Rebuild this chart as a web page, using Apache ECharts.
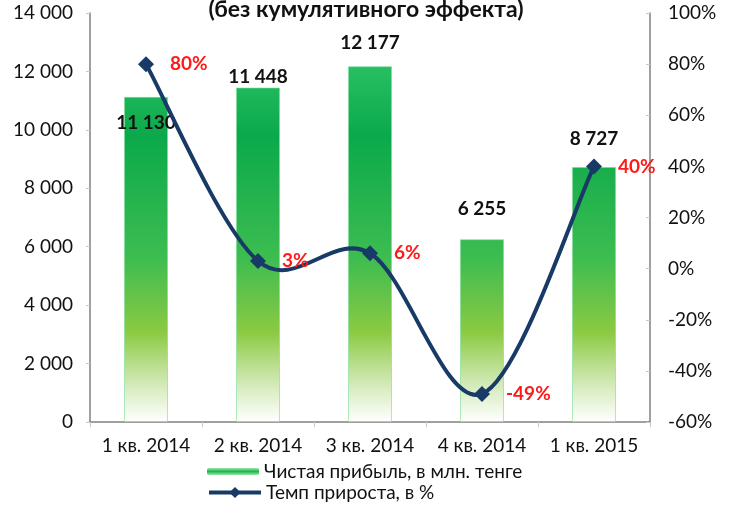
<!DOCTYPE html>
<html>
<head>
<meta charset="utf-8">
<script src="https://cdn.jsdelivr.net/npm/echarts@6/dist/echarts.min.js"></script>
<style>
  html, body { margin: 0; padding: 0; background: #fff; }
  #chart { width: 732px; height: 508px; }
</style>
</head>
<body>
<div id="chart"></div>
<script>
// данные
const quarters = ["1 кв. 2014", "2 кв. 2014", "3 кв. 2014", "4 кв. 2014", "1 кв. 2015"];
const profit = [11130, 11448, 12177, 6255, 8727]; // млн. тенге
const growth = [80, 3, 6, -49, 40]; // %
const profitTicks = [0, 2000, 4000, 6000, 8000, 10000, 12000, 14000];
const growthTicks = [-60, -40, -20, 0, 20, 40, 60, 80, 100];

// сдвиг подписей столбцов по вертикали (px)
const barLabelShift = [41, 4, -9, -16, -14];

const fmtNum = (v) => String(v).replace(/\B(?=(\d{3})+(?!\d))/g, " ");
const font = "Lato, 'Open Sans', sans-serif";
const navy = "#183a66";
const barName = "Чистая прибыль, в млн. тенге";
const lineName = "Темп прироста, в %";

const chart = echarts.init(document.getElementById("chart"));

// градиент по всей области графика, как в Excel
const barFill = {
  type: "linear",
  x: 0, y: 13, x2: 0, y2: 422,
  global: true,
  colorStops: [
    { offset: 0, color: "#3fd074" },
    { offset: 0.3, color: "#0ba94b" },
    { offset: 0.6, color: "#3dbd50" },
    { offset: 0.78, color: "#8bca42" },
    { offset: 0.9, color: "#cfe8b2" },
    { offset: 1, color: "#ffffff" },
  ],
};

// сглаживание как в Excel (Catmull-Rom -> Безье)
function smoothLine(params, api) {
  if (params.dataIndex !== 0) return null;
  const pts = growth.map((v, i) => api.coord([i, v]));
  const n = pts.length;
  const children = [];
  for (let i = 0; i < n - 1; i++) {
    const p0 = pts[Math.max(i - 1, 0)];
    const p1 = pts[i];
    const p2 = pts[i + 1];
    const p3 = pts[Math.min(i + 2, n - 1)];
    children.push({
      type: "bezierCurve",
      shape: {
        x1: p1[0], y1: p1[1],
        x2: p2[0], y2: p2[1],
        cpx1: p1[0] + (p2[0] - p0[0]) / 6,
        cpy1: p1[1] + (p2[1] - p0[1]) / 6,
        cpx2: p2[0] - (p3[0] - p1[0]) / 6,
        cpy2: p2[1] - (p3[1] - p1[1]) / 6,
      },
      style: { stroke: navy, lineWidth: 4, fill: null, lineCap: "round" },
    });
  }
  return { type: "group", children: children };
}

const option = {
  animation: false,
  textStyle: { fontFamily: font },
  title: {
    text: "(без кумулятивного эффекта)",
    left: "center",
    top: -7,
    textStyle: { fontFamily: font, fontSize: 23, fontWeight: "bold", color: "#111" },
  },
  grid: { left: 90, right: 82, top: 13, bottom: 86 },
  legend: [
    {
      left: 207,
      top: 462,
      padding: 0,
      itemWidth: 52,
      itemHeight: 7,
      textStyle: { fontFamily: font, fontSize: 19, color: "#111" },
      data: [
        {
          name: barName,
          itemStyle: {
            color: {
              type: "linear", x: 0, y: 0, x2: 0, y2: 1,
              colorStops: [
                { offset: 0, color: "#9be6a8" },
                { offset: 0.5, color: "#1fb552" },
                { offset: 1, color: "#9be6a8" },
              ],
            },
            borderWidth: 0,
          },
        },
      ],
    },
    {
      left: 207,
      top: 483,
      padding: 0,
      itemWidth: 52,
      itemHeight: 14,
      textStyle: { fontFamily: font, fontSize: 19, color: "#111" },
      data: [
        {
          name: lineName,
          lineStyle: { color: navy, width: 4, opacity: 1 },
          itemStyle: { color: navy },
        },
      ],
    },
  ],
  xAxis: {
    type: "category",
    data: quarters,
    axisLine: { lineStyle: { color: "#808080", width: 1.5 } },
    axisTick: { show: true, length: 5, lineStyle: { color: "#c8c8c8" } },
    axisLabel: {
      fontFamily: font, fontSize: 19, color: "#111", margin: 14,
      interval: 0, hideOverlap: false,
    },
  },
  yAxis: [
    {
      type: "value",
      min: profitTicks[0],
      max: profitTicks[profitTicks.length - 1],
      interval: 2000,
      splitLine: { show: false },
      axisLine: { show: true, lineStyle: { color: "#808080", width: 1.5 } },
      axisTick: { show: true, length: 4, lineStyle: { color: "#c8c8c8" } },
      axisLabel: { fontFamily: font, fontSize: 19, color: "#111", margin: 17, formatter: fmtNum },
    },
    {
      type: "value",
      min: growthTicks[0],
      max: growthTicks[growthTicks.length - 1],
      interval: 20,
      splitLine: { show: false },
      axisLine: { show: true, lineStyle: { color: "#808080", width: 1.5 } },
      axisTick: { show: true, inside: true, length: 4, lineStyle: { color: "#c8c8c8" } },
      axisLabel: { fontFamily: font, fontSize: 19, color: "#111", margin: 18, formatter: "{value}%" },
    },
  ],
  series: [
    {
      name: barName,
      type: "bar",
      barWidth: 44,
      data: profit.map((v, i) => ({
        value: v,
        label: { offset: [0, barLabelShift[i]] },
      })),
      itemStyle: { color: barFill, borderColor: "rgba(120,220,150,0.6)", borderWidth: 1 },
      label: {
        show: true,
        position: "top",
        distance: 5,
        fontFamily: font,
        fontSize: 19,
        fontWeight: "bold",
        color: "#111",
        formatter: (p) => fmtNum(p.value),
      },
    },
    {
      name: lineName + " (кривая)",
      type: "custom",
      yAxisIndex: 1,
      data: growth.map((v, i) => [i, v]),
      renderItem: smoothLine,
      silent: true,
      z: 4,
    },
    {
      name: lineName,
      type: "line",
      yAxisIndex: 1,
      data: growth,
      symbol: "diamond",
      symbolSize: 16,
      lineStyle: { color: navy, width: 4, opacity: 0 },
      itemStyle: { color: navy },
      label: {
        show: true,
        position: "right",
        distance: 16,
        fontFamily: font,
        fontSize: 19,
        fontWeight: "bold",
        color: "#ff1a1a",
        formatter: "{c}%",
      },
      z: 5,
    },
  ],
};

chart.setOption(option);
</script>
</body>
</html>
